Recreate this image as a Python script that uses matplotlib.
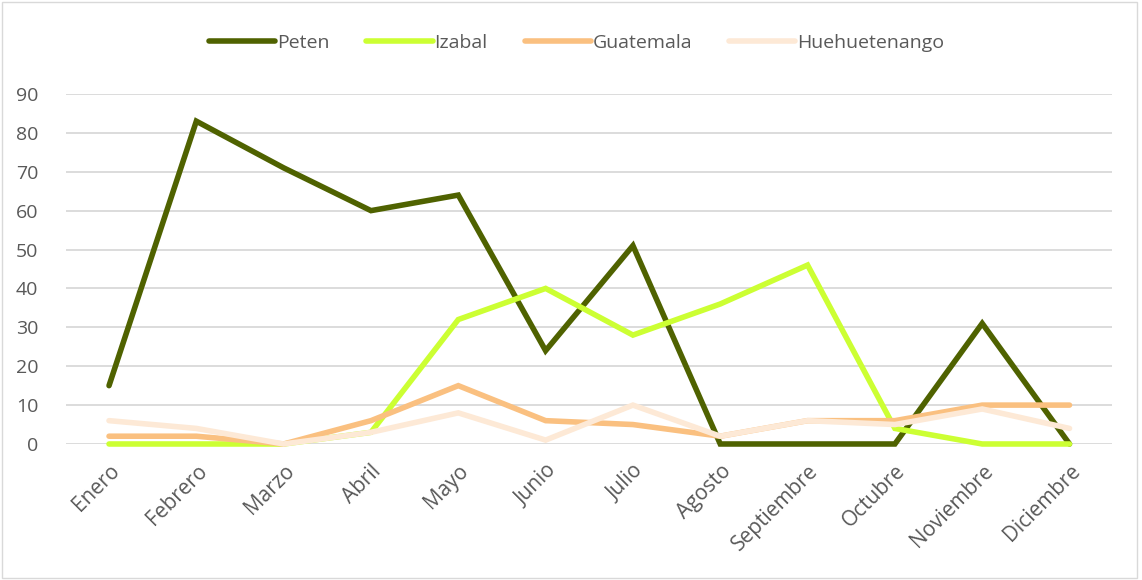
import matplotlib.pyplot as plt
from matplotlib.patches import Rectangle

plt.rcParams['font.family'] = ['Open Sans', 'DejaVu Sans']

meses = ['Enero', 'Febrero', 'Marzo', 'Abril', 'Mayo', 'Junio', 'Julio',
         'Agosto', 'Septiembre', 'Octubre', 'Noviembre', 'Diciembre']
peten = [15, 83, 71, 60, 64, 24, 51, 0, 0, 0, 31, 0]
izabal = [0, 0, 0, 3, 32, 40, 28, 36, 46, 4, 0, 0]
guatemala = [2, 2, 0, 6, 15, 6, 5, 2, 6, 6, 10, 10]
huehue = [6, 4, 0, 3, 8, 1, 10, 2, 6, 5, 9, 4]

series = [
    ('Peten', peten, '#4f6200'),
    ('Izabal', izabal, '#ccff33'),
    ('Guatemala', guatemala, '#fac080'),
    ('Huehuetenango', huehue, '#fde9d6'),
]

fig = plt.figure(figsize=(11.42, 5.8), dpi=100)
ax = fig.add_axes([0.058, 0.2345, 0.916, 0.6035])

x = list(range(len(meses)))
# mismo orden que Excel: la última serie queda encima
for nombre, vals, color in series:
    ax.plot(x, vals, color=color, lw=4, label=nombre,
            solid_capstyle='round', solid_joinstyle='miter', clip_on=False)

ax.set_xlim(-0.49, 11.49)
ax.set_ylim(0, 90)
ax.set_yticks(range(0, 91, 10))
ax.yaxis.grid(True, color='#d9d9d9', lw=1.3)
ax.set_axisbelow(True)
for s in ax.spines.values():
    s.set_visible(False)
ax.tick_params(length=0, colors='#595959', labelsize=14)
ax.tick_params(axis='y', pad=20)
ax.tick_params(axis='x', pad=12, labelsize=15)
ax.set_xticks(x)
ax.set_xticklabels(meses, rotation=45, ha='right', rotation_mode='anchor')

fig.legend(loc='center', bbox_to_anchor=(0.505, 0.926), ncol=4,
           frameon=False, fontsize=14, labelcolor='#595959',
           handlelength=3.4, handletextpad=0.1, columnspacing=1.9)

fig.patches.append(Rectangle((0.002, 0.004), 0.994, 0.993, transform=fig.transFigure,
                             fill=False, edgecolor='#d9d9d9', lw=1))

fig.savefig('out.png', dpi=100)
